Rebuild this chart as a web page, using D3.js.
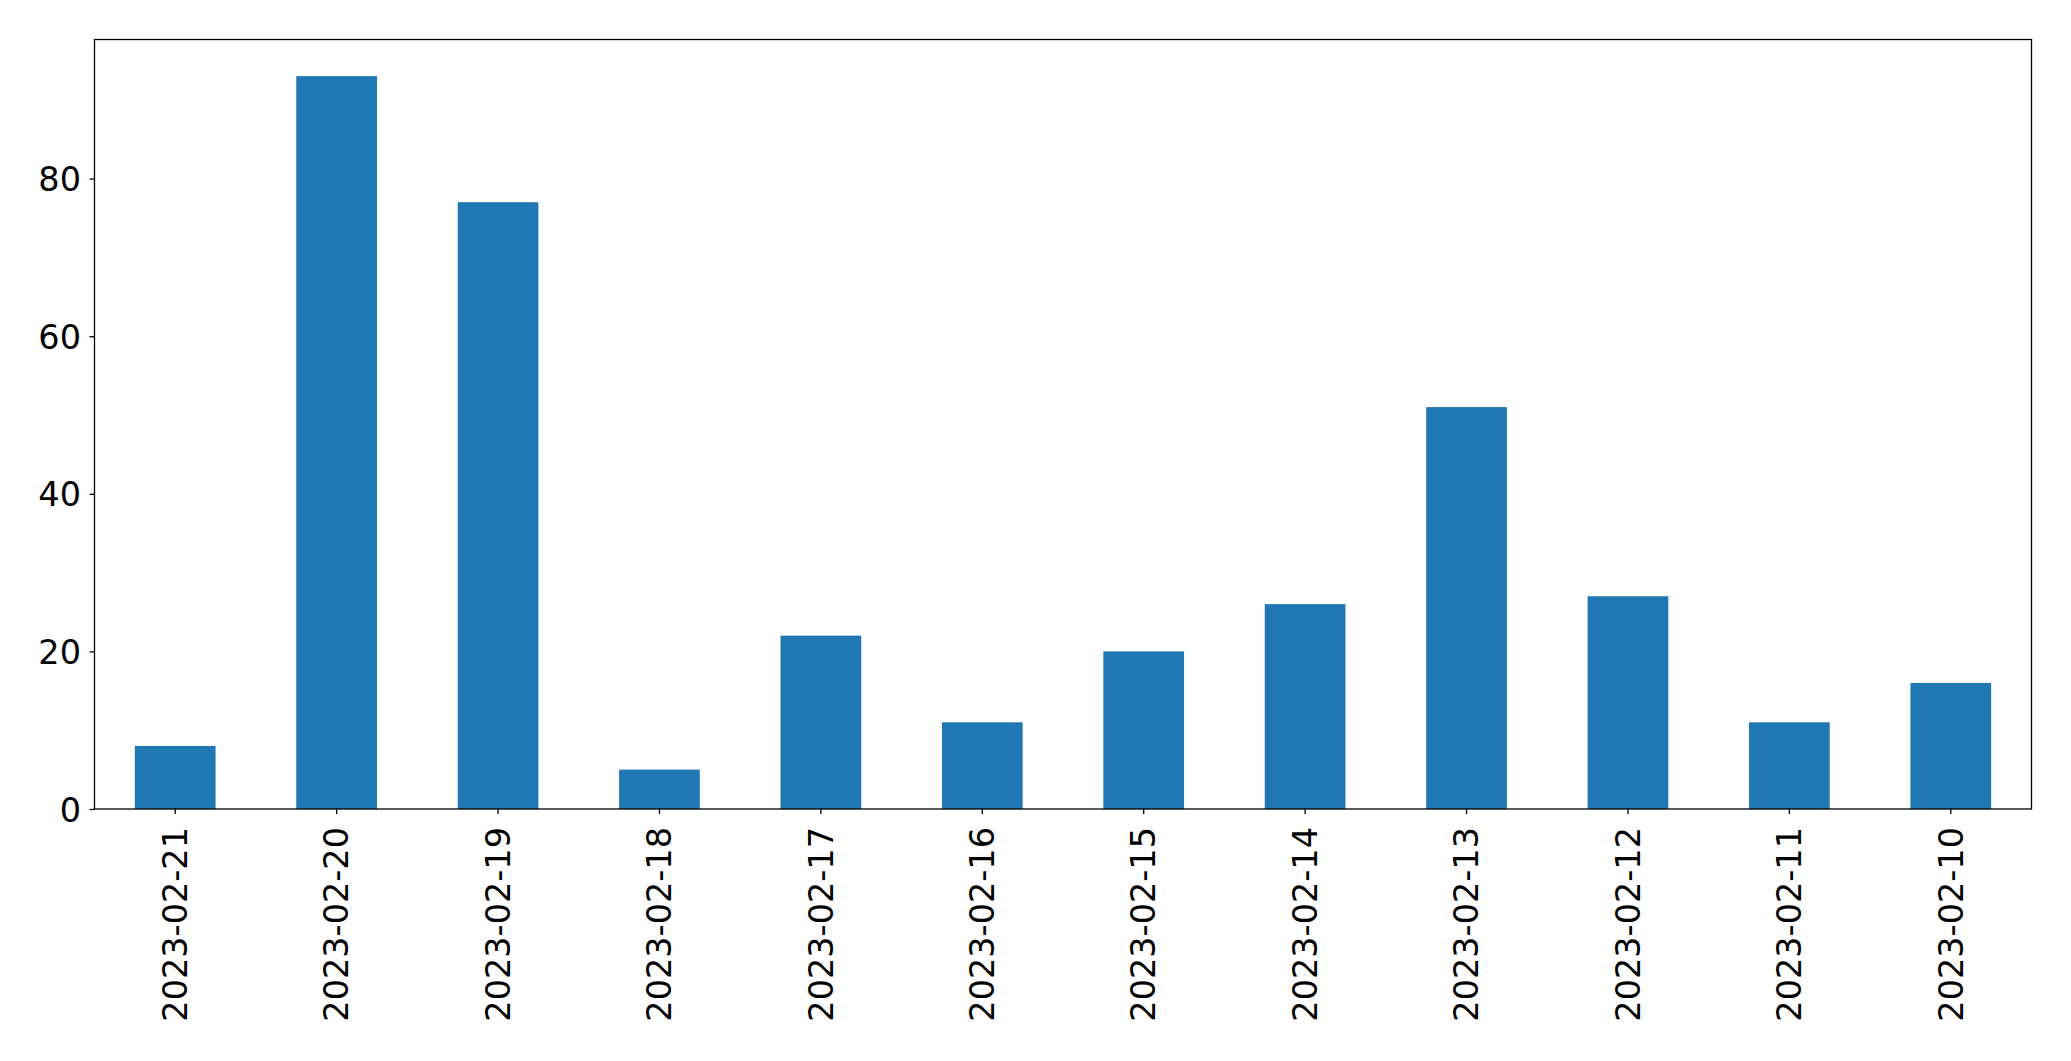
<!DOCTYPE html>
<html>
<head>
<meta charset="utf-8">
<script src="https://cdn.jsdelivr.net/npm/d3@7"></script>
<style>
  html, body { margin: 0; padding: 0; background: #fff; }
  svg { display: block; }
  text { font-family: "DejaVu Sans", sans-serif; fill: #000; }
</style>
</head>
<body>
<svg id="chart" width="2071" height="1061"></svg>
<script>
const categories = ["2023-02-21","2023-02-20","2023-02-19","2023-02-18","2023-02-17","2023-02-16","2023-02-15","2023-02-14","2023-02-13","2023-02-12","2023-02-11","2023-02-10"];
const values = [8, 93, 77, 5, 22, 11, 20, 26, 51, 27, 11, 16];
const yTicks = [0, 20, 40, 60, 80];

const svg = d3.select("#chart");
const margin = { left: 94.5, right: 2071 - 2031.5, top: 39.5, bottom: 1061 - 809 };
const W = 2071, H = 1061;
const x = d3.scaleBand().domain(categories).range([margin.left, W - margin.right]).paddingInner(0.5).paddingOuter(0.25);
const y = d3.scaleLinear().domain([0, d3.max(values) * 1.05]).range([H - margin.bottom, margin.top]);

svg.append("g").selectAll("rect").data(values).join("rect")
  .attr("x", (d, i) => x(categories[i]))
  .attr("width", x.bandwidth())
  .attr("y", d => y(d))
  .attr("height", d => y(0) - y(d))
  .attr("fill", "#1f77b4");

const fs = "33.5px";
const xAxis = svg.append("g").attr("transform", `translate(0,${H - margin.bottom})`)
  .call(d3.axisBottom(x).tickSize(5).tickPadding(13).tickSizeOuter(0));
xAxis.select(".domain").remove();
xAxis.selectAll("line").attr("stroke", "#000").attr("stroke-width", 1.3);
xAxis.selectAll("text")
  .style("font-size", fs)
  .attr("transform", "rotate(-90)")
  .attr("text-anchor", "end")
  .attr("x", -18)
  .attr("y", 0)
  .attr("dy", "0.35em");

const yAxis = svg.append("g").attr("transform", `translate(${margin.left},0)`)
  .call(d3.axisLeft(y).tickValues(yTicks).tickSize(5).tickPadding(8.5).tickSizeOuter(0));
yAxis.select(".domain").remove();
yAxis.selectAll("line").attr("stroke", "#000").attr("stroke-width", 1.3);
yAxis.selectAll("text").style("font-size", fs).attr("dy", "0.36em");

svg.append("rect")
  .attr("x", margin.left).attr("y", margin.top)
  .attr("width", W - margin.right - margin.left)
  .attr("height", H - margin.bottom - margin.top)
  .attr("fill", "none").attr("stroke", "#000").attr("stroke-width", 1.3);
</script>
</body>
</html>
